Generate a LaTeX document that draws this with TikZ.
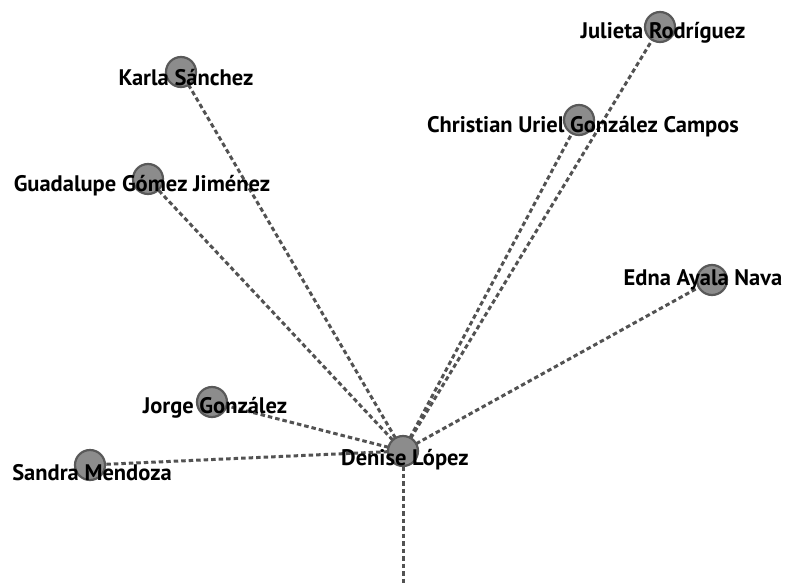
\documentclass[tikz,border=0pt]{standalone}
\usepackage{fontspec}
\setmainfont{PT Sans}
\pgfdeclarelayer{ties}
\pgfsetlayers{ties,main}
\begin{document}
\begin{tikzpicture}[x=1pt,y=-1pt,
  person/.style={circle,minimum size=30pt,inner sep=0pt,fill=gray!90!white,draw=black!65,line width=2.2pt},
  namelabel/.style={font=\bfseries\fontsize{22.5}{24}\selectfont,text=black,inner sep=0pt},
  tie/.style={draw=black!68,line width=3pt,dash pattern=on 4.5pt off 3pt}]
\useasboundingbox (0,0) rectangle (797,583);
% people
\node[person] (den) at (403,451) {};
\node[person] (jul) at (660,27) {};
\node[person] (chr) at (579,120) {};
\node[person] (kar) at (181,72) {};
\node[person] (gua) at (148,179) {};
\node[person] (edn) at (712,280) {};
\node[person] (jor) at (212,402) {};
\node[person] (san) at (90,465) {};
\coordinate (down) at (403,590);
% ties, kept behind the circles
\begin{pgfonlayer}{ties}
\path[tie] (den.center) -- (jul.center);
\path[tie] (den.center) -- (chr.center);
\path[tie] (den.center) -- (kar.center);
\path[tie] (den.center) -- (gua.center);
\path[tie] (den.center) -- (edn.center);
\path[tie] (den.center) -- (jor.center);
\path[tie] (den.center) -- (san.center);
\path[tie] (den.center) -- (down);
\end{pgfonlayer}
% names
\node[namelabel] (denl) at (405,460) {Denise López};
\node[namelabel] (jull) at (663,33) {Julieta Rodríguez};
\node[namelabel] (chrl) at (583,127) {Christian Uriel González Campos};
\node[namelabel] (karl) at (186,78) {Karla Sánchez};
\node[namelabel] (gual) at (142,186) {Guadalupe Gómez Jiménez};
\node[namelabel] (ednl) at (703,280) {Edna Ayala Nava};
\node[namelabel] (jorl) at (215,408) {Jorge González};
\node[namelabel] (sanl) at (92,473) {Sandra Mendoza};
\end{tikzpicture}
\end{document}
